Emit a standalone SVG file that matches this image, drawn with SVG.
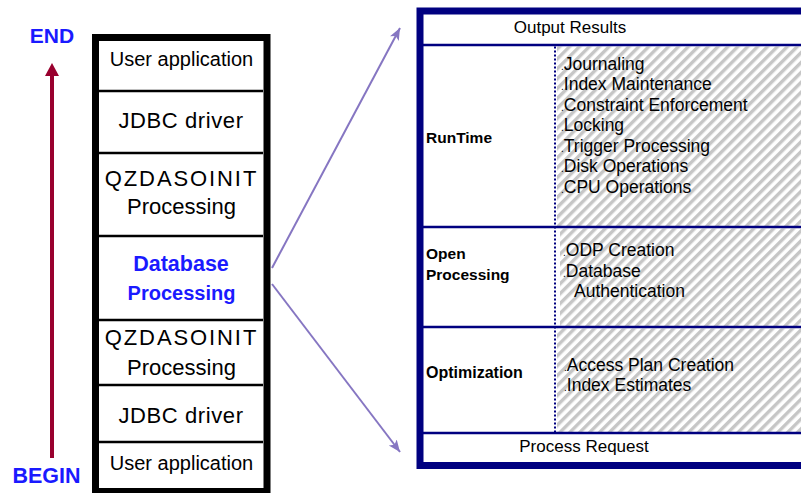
<svg xmlns="http://www.w3.org/2000/svg" width="801" height="493" viewBox="0 0 801 493">
  <defs>
    <!-- light grey diagonal hatching for the detail column -->
    <pattern id="hatch" patternUnits="userSpaceOnUse" width="7" height="7" patternTransform="rotate(45)">
      <rect x="0" y="0" width="7" height="7" fill="#ffffff"/>
      <rect x="0" y="0" width="3.4" height="7" fill="#c6c6c6"/>
    </pattern>
    <marker id="arrowPurple" markerUnits="userSpaceOnUse" markerWidth="14" markerHeight="12" refX="12" refY="5" orient="auto">
      <path d="M0,0 L12,5 L0,10 L3,5 z" fill="#8676c2"/>
    </marker>
  </defs>
  <style>
    text { font-family: "Liberation Sans", Arial, sans-serif; fill: #000; }
    .layer { font-size: 22px; text-anchor: middle; }
    .small { font-size: 20px; }
    .blue { fill: #1a1aff; font-weight: bold; }
    .divider { stroke: #000; stroke-width: 2.5; }
    .navy { stroke: #000080; fill: none; }
    .sect { font-size: 15.5px; font-weight: bold; }
    .item { font-size: 17.5px; }
    .dot { font-size: 10px; }
    .conn { stroke: #8676c2; stroke-width: 2; fill: none; }
  </style>

  <rect width="801" height="493" fill="#ffffff"/>

  <!-- direction of flow: BEGIN at the bottom, END at the top -->
  <g id="flow">
    <line x1="52" y1="75" x2="52" y2="458" stroke="#99002e" stroke-width="4"/>
    <polygon points="45,76 59,76 52,63" fill="#99002e"/>
    <text x="52" y="43" class="blue" style="font-size:21px" text-anchor="middle">END</text>
    <text x="46.5" y="483" class="blue" style="font-size:21.5px" text-anchor="middle">BEGIN</text>
  </g>

  <!-- left: processing stack -->
  <g id="stack">
    <rect x="95.5" y="37.5" width="171.5" height="454" fill="#ffffff" stroke="#000" stroke-width="7"/>
    <line class="divider" x1="99" y1="91" x2="263" y2="91"/>
    <line class="divider" x1="99" y1="153" x2="263" y2="153"/>
    <line class="divider" x1="99" y1="236" x2="263" y2="236"/>
    <line class="divider" x1="99" y1="320" x2="263" y2="320"/>
    <line class="divider" x1="99" y1="385" x2="263" y2="385"/>
    <line class="divider" x1="99" y1="442" x2="263" y2="442"/>
  </g>
  <g id="layer-user-app-top">
    <text class="layer small" x="181.5" y="66">User application</text>
  </g>
  <g id="layer-jdbc-top">
    <text class="layer" x="181" y="128" letter-spacing="0.6">JDBC driver</text>
  </g>
  <g id="layer-qzdas-top">
    <text class="layer" x="181.5" y="186" letter-spacing="1.9">QZDASOINIT</text>
    <text class="layer" x="181.5" y="214">Processing</text>
  </g>
  <g id="layer-db">
    <text class="layer blue" x="181" y="271" style="font-size:21.5px">Database</text>
    <text class="layer blue" x="181.5" y="300" style="font-size:20px">Processing</text>
  </g>
  <g id="layer-qzdas-bottom">
    <text class="layer" x="181.5" y="345" letter-spacing="1.9">QZDASOINIT</text>
    <text class="layer" x="181.5" y="375">Processing</text>
  </g>
  <g id="layer-jdbc-bottom">
    <text class="layer" x="181" y="423" letter-spacing="0.6">JDBC driver</text>
  </g>
  <g id="layer-user-app-bottom">
    <text class="layer small" x="181.5" y="470">User application</text>
  </g>

  <!-- connectors from Database Processing to the detail box -->
  <g id="connectors">
    <line class="conn" x1="272" y1="268" x2="400" y2="28" marker-end="url(#arrowPurple)"/>
    <line class="conn" x1="272" y1="284" x2="400" y2="452" marker-end="url(#arrowPurple)"/>
  </g>

  <!-- right: database processing detail -->
  <g id="detail-frame">
    <rect x="557" y="46.5" width="250" height="179.5" fill="url(#hatch)"/>
    <rect x="560" y="228.5" width="250" height="97.5" fill="url(#hatch)"/>
    <rect x="557" y="328.5" width="250" height="103.5" fill="url(#hatch)"/>
    <rect class="navy" x="420" y="11" width="400" height="454.5" stroke-width="7"/>
    <line class="navy" x1="423" y1="45" x2="801" y2="45" stroke-width="2.5"/>
    <line class="navy" x1="423" y1="227" x2="801" y2="227" stroke-width="2.5"/>
    <line class="navy" x1="423" y1="327" x2="801" y2="327" stroke-width="2.5"/>
    <line class="navy" x1="423" y1="433" x2="801" y2="433" stroke-width="2.5"/>
    <line class="navy" x1="555" y1="46.5" x2="555" y2="432" stroke-width="2" stroke-dasharray="2 2"/>
  </g>

  <g id="output-results">
    <text x="570" y="33" style="font-size:17px" text-anchor="middle">Output Results</text>
  </g>

  <g id="runtime">
    <text class="sect" x="426" y="143">RunTime</text>
    <text class="item" x="561" y="69.5"><tspan class="dot">.</tspan>Journaling</text>
    <text class="item" x="561" y="90"><tspan class="dot">.</tspan>Index Maintenance</text>
    <text class="item" x="561" y="110.5"><tspan class="dot">.</tspan>Constraint Enforcement</text>
    <text class="item" x="561" y="131"><tspan class="dot">.</tspan>Locking</text>
    <text class="item" x="561" y="151.5"><tspan class="dot">.</tspan>Trigger Processing</text>
    <text class="item" x="561" y="172"><tspan class="dot">.</tspan>Disk Operations</text>
    <text class="item" x="561" y="192.5"><tspan class="dot">.</tspan>CPU Operations</text>
  </g>

  <g id="open-processing">
    <text class="sect" x="426" y="259">Open</text>
    <text class="sect" x="426" y="280">Processing</text>
    <text class="item" x="563" y="256"><tspan class="dot">.</tspan>ODP Creation</text>
    <text class="item" x="563" y="277"><tspan class="dot">.</tspan>Database</text>
    <text class="item" x="574" y="297">Authentication</text>
  </g>

  <g id="optimization">
    <text class="sect" x="426" y="378" style="font-size:16px">Optimization</text>
    <text class="item" x="564" y="371"><tspan class="dot">.</tspan>Access Plan Creation</text>
    <text class="item" x="564" y="391"><tspan class="dot">.</tspan>Index Estimates</text>
  </g>

  <g id="process-request">
    <text x="584" y="452" style="font-size:17px" text-anchor="middle">Process Request</text>
  </g>
</svg>
